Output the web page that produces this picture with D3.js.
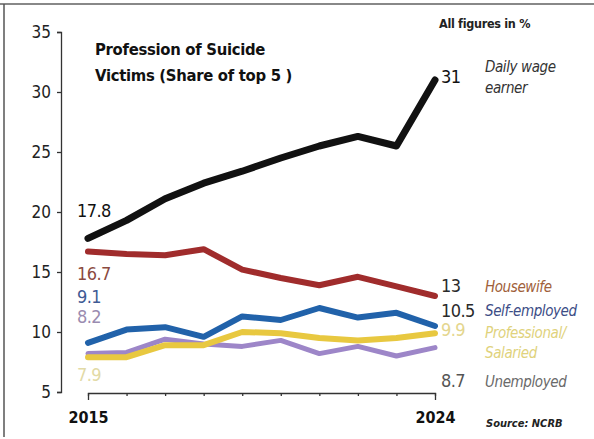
<!DOCTYPE html>
<html>
<head>
<meta charset="utf-8">
<script src="https://cdn.jsdelivr.net/npm/d3@7"></script>
<style>
  body { margin: 0; background: #fff; }
  svg { display: block; }
</style>
</head>
<body>
<div id="chart"></div>
<script>
// data (share of top 5 professions, %)
var years = [2015, 2016, 2017, 2018, 2019, 2020, 2021, 2022, 2023, 2024];
var dailyWage    = [17.8, 19.3, 21.1, 22.4, 23.4, 24.5, 25.5, 26.3, 25.5, 31];
var housewife    = [16.7, 16.5, 16.4, 16.9, 15.2, 14.5, 13.9, 14.6, 13.8, 13];
var selfEmployed = [9.1, 10.2, 10.4, 9.6, 11.3, 11.0, 12.0, 11.2, 11.6, 10.5];
var professional = [7.9, 7.9, 8.9, 8.9, 10.0, 9.9, 9.5, 9.3, 9.5, 9.9];
var unemployed   = [8.2, 8.3, 9.4, 9.0, 8.8, 9.3, 8.2, 8.8, 8.0, 8.7];
var yTicks = [5, 10, 15, 20, 25, 30, 35];

var W = 594, H = 439;
var font = "'DejaVu Sans Condensed', sans-serif";
var svg = d3.select("#chart").append("svg")
    .attr("width", W).attr("height", H);

// page frame
svg.append("line").attr("x1", 0).attr("x2", W).attr("y1", 4).attr("y2", 4)
    .attr("stroke", "#888").attr("stroke-width", 2);
svg.append("line").attr("x1", 4).attr("x2", 4).attr("y1", 4).attr("y2", 437)
    .attr("stroke", "#555").attr("stroke-width", 1.5);

var x = d3.scaleLinear().domain([2015, 2024]).range([88, 435]);
var y = d3.scaleLinear().domain([5, 35]).range([392, 32]);

// y axis
var yAxis = svg.append("g")
    .attr("transform", "translate(61,0)")
    .call(d3.axisLeft(y).tickValues(yTicks).tickSize(4).tickPadding(6));
yAxis.selectAll("path, line").attr("stroke", "#333").attr("stroke-width", 1.3);
yAxis.selectAll("text").attr("fill", "#222").style("font-size", "17px")
    .style("font-family", font);

// x axis
var xAxis = svg.append("g")
    .attr("transform", "translate(0,393)")
    .call(d3.axisBottom(x).tickValues(years).tickSize(3).tickSizeOuter(7)
        .tickPadding(16)
        .tickFormat(function(d) { return (d === 2015 || d === 2024) ? d : ""; }));
xAxis.selectAll("path, line").attr("stroke", "#333").attr("stroke-width", 1.3);
xAxis.selectAll("text").attr("fill", "#111").style("font-size", "16px")
    .style("font-weight", "bold")
    .style("font-family", font);

var series = [
  { name: "Unemployed", values: unemployed, color: "#9d86c8", width: 5,
    startDy: -31, startColor: "#9a8bb0", endDy: 39, endColor: "#555",
    label: ["Unemployed"], labelY: [387], labelColor: "#6a6a6a" },
  { name: "Professional", values: professional, color: "#e8c840", width: 6,
    startDy: 24, startColor: "#e2daa6", endDy: 3, endColor: "#e4d68e",
    label: ["Professional/", "Salaried"], labelY: [338, 358], labelColor: "#e0d27c" },
  { name: "Self-employed", values: selfEmployed, color: "#2162aa", width: 6,
    startDy: -40, startColor: "#3f5a94", endDy: -9, endColor: "#2a2a2a",
    label: ["Self-employed"], labelY: [316], labelColor: "#3c4d86" },
  { name: "Housewife", values: housewife, color: "#a02c2c", width: 6,
    startDy: 28, startColor: "#8b4a3f", endDy: -4, endColor: "#2a2a2a",
    label: ["Housewife"], labelY: [292], labelColor: "#a0603a" },
  { name: "Daily wage earner", values: dailyWage, color: "#111", width: 7,
    startDy: -21, startColor: "#111", endDy: 3, endColor: "#111",
    label: ["Daily wage", "earner"], labelY: [72, 93], labelColor: "#333" }
];

var line = d3.line()
    .x(function(d, i) { return x(years[i]); })
    .y(function(d) { return y(d); });

series.forEach(function(s) {
  svg.append("path")
      .datum(s.values)
      .attr("fill", "none")
      .attr("stroke", s.color)
      .attr("stroke-width", s.width)
      .attr("stroke-linejoin", "round")
      .attr("stroke-linecap", "round")
      .attr("d", line);
});

series.forEach(function(s) {
  var first = s.values[0], last = s.values[s.values.length - 1];
  svg.append("text")
      .attr("x", x(2015) - 11)
      .attr("y", y(first) + s.startDy)
      .attr("fill", s.startColor)
      .style("font-family", font)
      .style("font-size", "18px")
      .style("letter-spacing", "-0.6px")
      .text(d3.format("~")(first));
  svg.append("text")
      .attr("x", x(2024) + 6)
      .attr("y", y(last) + s.endDy)
      .attr("fill", s.endColor)
      .style("font-family", font)
      .style("font-size", "18px")
      .style("letter-spacing", "-0.6px")
      .text(d3.format("~")(last));
  s.label.forEach(function(t, i) {
    svg.append("text")
        .attr("x", 485)
        .attr("y", s.labelY[i])
        .attr("fill", s.labelColor)
        .style("font-family", font)
        .style("font-style", "italic")
        .style("font-size", "15px")
        .style("letter-spacing", "-0.4px")
        .text(t);
  });
});

// title and notes
var title = svg.append("text")
    .style("font-family", font)
    .style("font-weight", "bold")
    .style("font-size", "16.5px")
    .style("letter-spacing", "-0.3px")
    .attr("fill", "#111");
title.append("tspan").attr("x", 95).attr("y", 55).text("Profession of Suicide");
title.append("tspan").attr("x", 95).attr("y", 81).text("Victims (Share of top 5 )");

svg.append("text")
    .attr("x", 439).attr("y", 28)
    .style("font-family", font)
    .style("font-weight", "bold")
    .style("font-size", "12.5px")
    .style("letter-spacing", "-0.3px")
    .attr("fill", "#222")
    .text("All figures in %");

svg.append("text")
    .attr("x", 486).attr("y", 427)
    .style("font-family", font)
    .style("font-weight", "bold")
    .style("font-style", "italic")
    .style("font-size", "11px")
    .attr("fill", "#222")
    .text("Source: NCRB");
</script>
</body>
</html>
